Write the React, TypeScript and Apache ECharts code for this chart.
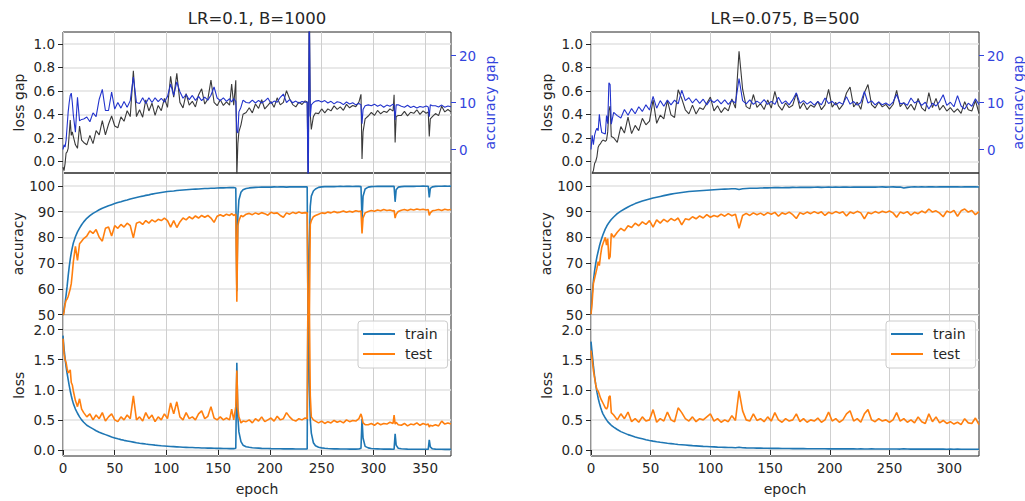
import React, { useEffect, useRef } from 'react';
import * as echarts from 'echarts';

// ---------------- Panel A: LR=0.1, B=1000 ----------------
const EPOCHS_A = [
  0, 1, 2, 3, 4, 5, 6, 7, 8, 9, 10,
  12, 14, 16, 18, 20,
  23, 26, 29, 32, 35, 38, 41, 44, 47, 50,
  53, 56, 59, 62, 65, 68, 71, 74, 77, 80,
  83, 86, 89, 92, 95, 98, 101, 104, 107, 110,
  113, 116, 119, 122, 125, 128, 131, 134, 137, 140,
  143, 146, 149, 152, 155, 158, 161,
  163, 165, 167, 168, 169, 170, 172, 174,
  177, 180, 183, 186, 189, 192, 195, 198, 201, 204,
  207, 210, 213, 216, 219, 222, 225, 228, 231, 234,
  236, 237, 238, 239, 240, 242, 244,
  247, 250, 253, 256, 259, 262, 265, 268, 271, 274, 277, 280, 283, 286,
  288, 289, 290, 292,
  295, 298, 301, 304, 307, 310, 313, 316, 319,
  320, 321, 322, 324,
  327, 330, 333, 336, 339, 342, 345, 348, 351,
  353, 354, 355, 357,
  360, 363, 366, 369, 372, 375,
];

const TRAIN_ACC_A = [
  49, 52, 54.5, 57.5, 61, 65, 68.5, 71.5, 74, 76, 77.8,
  80.2, 82.1, 83.6, 84.9, 86,
  87.4, 88.4, 89.3, 90.0, 90.7, 91.3, 91.8, 92.3, 92.7, 93.1,
  93.5, 93.8, 94.2, 94.5, 94.9, 95.2, 95.5, 95.8, 96.0, 96.3,
  96.5, 96.8, 97.0, 97.2, 97.4, 97.6, 97.8, 97.9, 98.0, 98.2,
  98.3, 98.4, 98.5, 98.6, 98.7, 98.75, 98.8, 98.9, 98.95, 99.0,
  99.05, 99.1, 99.15, 99.2, 99.2, 99.25, 99.3,
  99.3, 99.35, 99.2, 59, 88, 94.5, 97.5, 98.5,
  99.0, 99.2, 99.3, 99.4, 99.45, 99.5, 99.5, 99.55, 99.5, 99.6,
  99.55, 99.6, 99.6, 99.5, 99.6, 99.65, 99.6, 99.65, 99.6, 99.65,
  99.6, 30, 75, 92, 96, 98, 98.8,
  99.4, 99.6, 99.7, 99.7, 99.75, 99.7, 99.75, 99.8, 99.75, 99.8, 99.8, 99.75, 99.8, 99.8,
  99.7, 87, 96, 98.8,
  99.5, 99.7, 99.75, 99.8, 99.8, 99.8, 99.85, 99.8, 99.85,
  99.8, 93.8, 98.5, 99.5,
  99.7, 99.8, 99.8, 99.85, 99.8, 99.85, 99.85, 99.9, 99.85,
  99.85, 95.5, 99.0, 99.6,
  99.8, 99.85, 99.85, 99.9, 99.85, 99.9,
];

const TEST_ACC_A = [
  49, 51, 54, 55.5, 56, 57, 58.5, 60, 62, 66, 70.5,
  76.5, 71, 77.5, 78.5, 79.5,
  80.5, 82.5, 81.5, 83, 80, 78.5, 83.5, 84, 80.5, 84.5,
  83.5, 85, 84, 85.5, 84.5, 79.8, 85.5, 86, 85, 86.5,
  85.5, 86.8, 86, 87, 86.5, 87.5, 86.5, 84, 86.5, 83.8,
  86, 87.5, 86.8, 88, 87.2, 88.3, 87.5, 88.5, 87.8, 88.5,
  87.5, 85.8, 88.2, 88.8, 88.2, 89, 88.5,
  89.2, 88.5, 89, 55, 84.5, 86.5, 88.5, 88,
  89, 89.3, 88.8, 89.5, 89, 89.6, 89.2, 88.6, 89.7, 89.3,
  89.5, 88.5, 87.8, 89.5, 89, 89.7, 89.3, 89.8, 89.4, 89.6,
  89.5, 42, 44, 85, 86.5, 88, 88.5,
  89, 89.5, 89.3, 89.8, 89.5, 90, 89.6, 89.8, 90.2, 89.7, 90.1, 89.8, 90.3, 90,
  90.2, 81.5, 87.5, 89.5,
  90, 90.4, 90.1, 90.6, 90.3, 90.8, 90.4, 90.6, 90.2,
  90.5, 87.5, 89, 90,
  90.5, 90.8, 90.4, 90.9, 90.6, 91, 90.7, 90.9, 90.6,
  90.8, 88.5, 89.5, 90.3,
  90.5, 90.8, 90.4, 90.9, 90.6, 90.8,
];

const TRAIN_LOSS_A = [
  1.9, 1.68, 1.52, 1.38, 1.27, 1.17, 1.07, 0.98, 0.9, 0.83, 0.77,
  0.68, 0.61, 0.55, 0.5, 0.46,
  0.41, 0.38, 0.35, 0.32, 0.295, 0.275, 0.255, 0.235, 0.215, 0.2,
  0.185, 0.172, 0.16, 0.15, 0.14, 0.13, 0.12, 0.112, 0.105, 0.098,
  0.092, 0.086, 0.08, 0.075, 0.07, 0.066, 0.062, 0.058, 0.055, 0.052,
  0.049, 0.046, 0.044, 0.042, 0.04, 0.038, 0.036, 0.034, 0.033, 0.031,
  0.03, 0.028, 0.027, 0.026, 0.025, 0.024, 0.023,
  0.022, 0.022, 0.03, 1.45, 0.55, 0.3, 0.14, 0.08,
  0.055, 0.045, 0.038, 0.033, 0.03, 0.027, 0.025, 0.024, 0.022, 0.021,
  0.02, 0.02, 0.019, 0.019, 0.018, 0.018, 0.017, 0.017, 0.017, 0.016,
  0.016, 3.6, 1.13, 0.5, 0.28, 0.12, 0.07,
  0.045, 0.035, 0.028, 0.024, 0.021, 0.019, 0.018, 0.017, 0.016, 0.016, 0.015, 0.015, 0.015, 0.016,
  0.03, 0.52, 0.2, 0.06,
  0.035, 0.025, 0.02, 0.018, 0.016, 0.015, 0.014, 0.014, 0.013,
  0.014, 0.27, 0.08, 0.03,
  0.02, 0.016, 0.014, 0.013, 0.012, 0.012, 0.011, 0.011, 0.011,
  0.011, 0.17, 0.05, 0.02,
  0.014, 0.012, 0.011, 0.01, 0.01, 0.01,
];

const TEST_LOSS_A = [
  1.85, 1.6, 1.5, 1.45, 1.35, 1.28, 1.3, 1.33, 1.12, 1.08, 0.98,
  0.82, 0.72, 0.85, 0.68, 0.62,
  0.55, 0.6, 0.5, 0.58, 0.52, 0.62, 0.48, 0.55, 0.6, 0.5,
  0.47, 0.55, 0.5, 0.58, 0.52, 0.9, 0.5, 0.55, 0.48, 0.62,
  0.52, 0.58, 0.47, 0.55, 0.5, 0.6, 0.52, 0.78, 0.6, 0.8,
  0.55, 0.5, 0.62, 0.52, 0.55, 0.5, 0.6, 0.65, 0.52, 0.56,
  0.72, 0.53, 0.5, 0.55, 0.5, 0.53, 0.5,
  0.68, 0.5, 0.72, 1.32, 0.7, 0.55, 0.45, 0.48,
  0.47, 0.5, 0.45, 0.52, 0.48, 0.55, 0.47, 0.5, 0.53, 0.48,
  0.56, 0.5, 0.52, 0.62, 0.55, 0.5, 0.48, 0.52, 0.5, 0.53,
  0.52, 3.4, 2.6, 0.9, 0.55, 0.5, 0.48,
  0.45, 0.48, 0.44, 0.47, 0.45, 0.49, 0.46, 0.48, 0.45, 0.5, 0.47, 0.49, 0.48, 0.52,
  0.6, 0.54, 0.45, 0.42,
  0.42, 0.44, 0.41, 0.45, 0.42, 0.44, 0.43, 0.46, 0.44,
  0.58, 0.43, 0.46, 0.42,
  0.41, 0.44, 0.4, 0.43, 0.42, 0.45, 0.41, 0.44, 0.42,
  0.43, 0.38, 0.41, 0.4,
  0.42, 0.4, 0.48, 0.43, 0.45, 0.43,
];

// ---------------- Panel B: LR=0.075, B=500 ----------------
const EPOCHS_B = [
  0, 1, 2, 3, 4, 5, 6, 7, 8, 9, 10,
  12, 13, 14, 15, 16, 17, 19,
  22, 25, 28, 31, 34, 37, 40, 43, 46, 49,
  52, 55, 58, 61, 64, 67, 70, 73, 76, 79,
  82, 85, 88, 91, 94, 97, 100, 103, 106, 109,
  112, 115, 118, 121, 124, 127, 130, 133, 136, 139,
  142, 145, 148, 151, 154, 157, 160, 163, 166, 169,
  172, 175, 178, 181, 184, 187, 190, 193, 196, 199,
  202, 205, 208, 211, 214, 217, 220, 223, 226, 229,
  232, 235, 238, 241, 244, 247, 250, 253, 256, 259,
  262, 265, 268, 271, 274, 277, 280, 283, 286, 289,
  292, 295, 298, 301, 304, 307, 310, 313, 316, 319,
  322, 325,
];

const TRAIN_ACC_B = [
  50, 58, 63, 67, 70, 72.5, 74.5, 76.5, 78.2, 79.6, 81,
  83.3, 84.2, 85, 85.7, 86.3, 86.9, 87.9,
  89.2, 90.2, 91.0, 91.8, 92.5, 93.1, 93.6, 94.1, 94.5, 94.9,
  95.3, 95.6, 95.9, 96.2, 96.5, 96.8, 97.0, 97.2, 97.4, 97.6,
  97.8, 97.9, 98.0, 98.1, 98.2, 98.3, 98.4, 98.5, 98.6, 98.7,
  98.75, 98.8, 98.85, 98.9, 98.6, 98.9, 99.0, 99.05, 99.1, 99.1,
  99.15, 99.2, 99.2, 99.25, 99.3, 99.3, 99.25, 99.35, 99.3, 99.4,
  99.35, 99.4, 99.4, 99.45, 99.4, 99.45, 99.5, 99.4, 99.45, 99.5,
  99.45, 99.5, 99.45, 99.5, 99.55, 99.45, 99.5, 99.55, 99.5, 99.55,
  99.5, 99.55, 99.5, 99.55, 99.6, 99.5, 99.55, 99.6, 99.5, 99.55,
  99.2, 99.4, 99.55, 99.6, 99.55, 99.6, 99.55, 99.6, 99.65, 99.55,
  99.6, 99.65, 99.6, 99.65, 99.6, 99.65, 99.55, 99.6, 99.65, 99.6,
  99.6, 99.55,
];

const TEST_ACC_B = [
  50, 55, 62, 64, 66, 68, 70.5, 69, 73, 76, 77.5,
  80, 77, 79.5, 71.5, 72.5, 81.5, 80,
  82, 83.5, 82.5, 84.5, 83.8, 85.5, 84.5, 86, 85, 86.5,
  84, 86.8, 85.5, 87, 86, 87.3, 86.5, 87.5, 84.8, 87.2,
  86.8, 88, 87.2, 88.3, 87.5, 88.8, 87.8, 88.5, 88, 89,
  88.2, 89.2, 88.4, 89, 83.5, 88.5, 89.3, 88.5, 89.5, 88.8,
  89.4, 88.6, 89.6, 89, 89.7, 88.2, 89.5, 89, 89.8, 88.8,
  87.3, 89.6, 89, 89.8, 89.2, 90, 89.3, 89.9, 88.5, 89.7,
  89.2, 90, 89.4, 89.9, 88.3, 89.8, 89.3, 90.1, 89.5, 87.2,
  89.6, 89.2, 90, 89.4, 90.1, 89.6, 90.2, 89.5, 87.8, 89.8,
  89.3, 90, 88.6, 89.7, 89.2, 90.2, 89.5, 91, 89.8, 90.3,
  89.4, 88, 90.2, 89.6, 90.5, 88.2, 90.3, 91, 89.8, 90.4,
  88.8, 90,
];

const TRAIN_LOSS_B = [
  1.8, 1.6, 1.4, 1.22, 1.08, 0.96, 0.86, 0.78, 0.71, 0.65, 0.6,
  0.53, 0.5, 0.47, 0.45, 0.43, 0.41, 0.38,
  0.34, 0.305, 0.28, 0.255, 0.235, 0.215, 0.2, 0.185, 0.17, 0.158,
  0.147, 0.137, 0.128, 0.12, 0.112, 0.105, 0.098, 0.092, 0.087, 0.082,
  0.077, 0.072, 0.068, 0.064, 0.06, 0.057, 0.054, 0.051, 0.048, 0.046,
  0.044, 0.042, 0.04, 0.038, 0.045, 0.037, 0.035, 0.034, 0.032, 0.031,
  0.03, 0.029, 0.028, 0.027, 0.026, 0.026, 0.025, 0.024, 0.024, 0.023,
  0.023, 0.022, 0.022, 0.021, 0.021, 0.02, 0.02, 0.021, 0.02, 0.019,
  0.02, 0.019, 0.019, 0.018, 0.019, 0.018, 0.018, 0.017, 0.018, 0.017,
  0.017, 0.018, 0.017, 0.016, 0.017, 0.016, 0.016, 0.017, 0.016, 0.015,
  0.02, 0.017, 0.015, 0.015, 0.016, 0.015, 0.014, 0.015, 0.014, 0.015,
  0.014, 0.014, 0.013, 0.014, 0.013, 0.014, 0.013, 0.013, 0.012, 0.013,
  0.013, 0.012,
];

const TEST_LOSS_B = [
  1.65, 1.5, 1.32, 1.2, 1.08, 1.0, 0.98, 0.92, 0.86, 0.82, 0.78,
  0.7, 0.68, 0.72, 0.88, 0.9, 0.62, 0.58,
  0.5, 0.6, 0.52, 0.63, 0.47, 0.52, 0.46, 0.55, 0.48, 0.5,
  0.67, 0.46, 0.52, 0.48, 0.63, 0.5, 0.47, 0.7, 0.62, 0.52,
  0.48, 0.55, 0.47, 0.52, 0.5, 0.55, 0.6, 0.48, 0.52, 0.46,
  0.5, 0.47, 0.57, 0.49, 0.98, 0.65, 0.5, 0.48, 0.6, 0.49,
  0.52, 0.47, 0.55, 0.48, 0.62, 0.5, 0.46, 0.52, 0.48, 0.5,
  0.6, 0.47, 0.52, 0.46, 0.5, 0.48, 0.53, 0.46, 0.5, 0.63,
  0.48, 0.52, 0.46, 0.5, 0.6, 0.65, 0.48, 0.52, 0.46, 0.6,
  0.67, 0.5, 0.47, 0.52, 0.48, 0.5, 0.46, 0.5, 0.62, 0.48,
  0.52, 0.46, 0.5, 0.45, 0.55, 0.47, 0.44, 0.6, 0.47, 0.55,
  0.45, 0.49, 0.44, 0.47, 0.43, 0.46, 0.42, 0.52, 0.45, 0.44,
  0.53, 0.42,
];

// ---------------- Ticks / labels ----------------
const TITLES = ['LR=0.1, B=1000', 'LR=0.075, B=500'];
const X_MAX = [375, 325];
const X_TICKS_A = [0, 50, 100, 150, 200, 250, 300, 350];
const X_TICKS_B = [0, 50, 100, 150, 200, 250, 300];
const LOSS_GAP_TICKS = [0, 0.2, 0.4, 0.6, 0.8, 1.0];
const ACC_GAP_TICKS = [0, 10, 20];
const ACC_TICKS = [50, 60, 70, 80, 90, 100];
const LOSS_TICKS = [0, 0.5, 1.0, 1.5, 2.0];
const LEGEND_NAMES = ['train', 'test'];

// ---------------- Styles ----------------
const FONT = 'DejaVu Sans';
const INK = '#262626';
const TRAIN_COLOR = '#1f77b4';
const TEST_COLOR = '#ff7f0e';
const LOSS_GAP_COLOR = '#3a3a3a';
const ACC_GAP_COLOR = '#2233cc';
const ACC_GAP_TEXT = '#3344dd';
const VGRID = '#cfcfcf';
const HGRID = '#e2e2e2';

const zip = (xs: number[], ys: number[]) => xs.map((x, i) => [x, ys[i]]);
const diff = (xs: number[], a: number[], b: number[]) =>
  xs.map((x, i) => [x, Math.round((a[i] - b[i]) * 10000) / 10000]);

function buildOption() {
  const panels = [
    { epochs: EPOCHS_A, trA: TRAIN_ACC_A, teA: TEST_ACC_A, trL: TRAIN_LOSS_A, teL: TEST_LOSS_A, xTicks: X_TICKS_A, left: 63, legendLeft: 358 },
    { epochs: EPOCHS_B, trA: TRAIN_ACC_B, teA: TEST_ACC_B, trL: TRAIN_LOSS_B, teL: TEST_LOSS_B, xTicks: X_TICKS_B, left: 591, legendLeft: 886 },
  ];
  const W = 388;
  const rows = [
    { top: 32, height: 141 },
    { top: 173, height: 141.5 },
    { top: 314.5, height: 141.5 },
  ];
  const tickLabel = { fontSize: 13.5, color: INK, fontFamily: FONT };
  const nameStyle = { fontSize: 14, color: INK, fontFamily: FONT };

  const grid: any[] = [];
  const xAxis: any[] = [];
  const yAxis: any[] = [];
  const series: any[] = [];
  const legend: any[] = [];
  const graphic: any[] = [];

  panels.forEach((p, pi) => {
    rows.forEach((r, ri) => {
      grid.push({
        left: p.left, top: r.top, width: W, height: r.height,
        show: true, borderColor: INK, borderWidth: 1, backgroundColor: 'transparent',
        containLabel: false, outerBoundsMode: 'none',
      });
      const bottom = ri === 2;
      xAxis.push({
        type: 'value', gridIndex: pi * 3 + ri, min: 0, max: X_MAX[pi], interval: 50,
        axisLine: { show: false },
        axisTick: { show: bottom, length: 5, customValues: p.xTicks, lineStyle: { color: INK } },
        axisLabel: { show: bottom, customValues: p.xTicks, margin: 5, ...tickLabel },
        splitLine: { show: true, lineStyle: { color: VGRID, width: 1 } },
        name: bottom ? 'epoch' : '', nameLocation: 'middle', nameGap: 26, nameTextStyle: nameStyle,
      });
    });

    // top-left: loss gap
    yAxis.push({
      type: 'value', gridIndex: pi * 3, position: 'left', min: -0.1, max: 1.1,
      axisLine: { show: false },
      axisTick: { show: true, length: 5, customValues: LOSS_GAP_TICKS, lineStyle: { color: INK } },
      axisLabel: { customValues: LOSS_GAP_TICKS, formatter: (v: number) => v.toFixed(1), margin: 8, ...tickLabel },
      splitLine: { show: true, lineStyle: { color: HGRID, width: 1.5 } },
      name: 'loss gap', nameLocation: 'middle', nameRotate: 90, nameGap: 37, nameTextStyle: nameStyle,
    });
    // top-right: accuracy gap
    yAxis.push({
      type: 'value', gridIndex: pi * 3, position: 'right', min: -5, max: 25,
      axisLine: { show: false },
      axisTick: { show: true, length: 5, customValues: ACC_GAP_TICKS, lineStyle: { color: ACC_GAP_TEXT } },
      axisLabel: { customValues: ACC_GAP_TICKS, margin: 8, ...tickLabel, color: ACC_GAP_TEXT },
      splitLine: { show: false },
      name: 'accuracy gap', nameLocation: 'middle', nameRotate: 90, nameGap: 32,
      nameTextStyle: { ...nameStyle, color: ACC_GAP_TEXT },
    });
    // middle: accuracy
    yAxis.push({
      type: 'value', gridIndex: pi * 3 + 1, min: 50, max: 105,
      axisLine: { show: false },
      axisTick: { show: true, length: 5, customValues: ACC_TICKS, lineStyle: { color: INK } },
      axisLabel: { customValues: ACC_TICKS, margin: 8, ...tickLabel },
      splitLine: { show: true, lineStyle: { color: HGRID, width: 1.5 } },
      name: 'accuracy', nameLocation: 'middle', nameRotate: 90, nameGap: 37, nameTextStyle: nameStyle,
    });
    // bottom: loss
    yAxis.push({
      type: 'value', gridIndex: pi * 3 + 2, min: -0.1, max: 2.25,
      axisLine: { show: false },
      axisTick: { show: true, length: 5, customValues: LOSS_TICKS, lineStyle: { color: INK } },
      axisLabel: { customValues: LOSS_TICKS, formatter: (v: number) => v.toFixed(1), margin: 8, ...tickLabel },
      splitLine: { show: true, lineStyle: { color: HGRID, width: 1.5 } },
      name: 'loss', nameLocation: 'middle', nameRotate: 90, nameGap: 37, nameTextStyle: nameStyle,
    });

    const line = (name: string, xi: number, yi: number, data: any[], color: string, width: number, z: number) => ({
      type: 'line', name, xAxisIndex: xi, yAxisIndex: yi, data, symbol: 'none', showSymbol: false,
      lineStyle: { color, width }, itemStyle: { color }, z, silent: true, clip: true,
    });

    series.push(line('loss gap', pi * 3, pi * 4, diff(p.epochs, p.teL, p.trL), LOSS_GAP_COLOR, 1.1, 2));
    series.push(line('accuracy gap', pi * 3, pi * 4 + 1, diff(p.epochs, p.trA, p.teA), ACC_GAP_COLOR, 1.1, 3));
    series.push(line('train', pi * 3 + 1, pi * 4 + 2, zip(p.epochs, p.trA), TRAIN_COLOR, 1.6, 2));
    series.push(line('test', pi * 3 + 1, pi * 4 + 2, zip(p.epochs, p.teA), TEST_COLOR, 1.6, 3));
    series.push(line('train', pi * 3 + 2, pi * 4 + 3, zip(p.epochs, p.trL), TRAIN_COLOR, 1.6, 2));
    series.push(line('test', pi * 3 + 2, pi * 4 + 3, zip(p.epochs, p.teL), TEST_COLOR, 1.6, 3));

    legend.push({
      data: LEGEND_NAMES, orient: 'vertical', left: p.legendLeft, top: 321,
      icon: 'rect', itemWidth: 32, itemHeight: 2, itemGap: 6, padding: [6, 10, 7, 5],
      backgroundColor: 'rgba(255,255,255,0.8)', borderColor: '#cccccc', borderWidth: 1, borderRadius: 3,
      textStyle: { fontSize: 14, color: INK, fontFamily: FONT, padding: [0, 0, 0, 5] },
      selectedMode: false, z: 10,
    });

    graphic.push({
      type: 'text', x: p.left + W / 2, y: 18, z: 10,
      style: {
        text: TITLES[pi], fontSize: 16.5, fontFamily: FONT, fill: INK,
        align: 'center', verticalAlign: 'middle', textAlign: 'center', textVerticalAlign: 'middle',
      },
    });
  });

  return {
    animation: false,
    backgroundColor: '#ffffff',
    textStyle: { fontFamily: FONT },
    grid, xAxis, yAxis, series, legend, graphic,
  };
}

export default function App() {
  const ref = useRef<HTMLDivElement>(null);
  useEffect(() => {
    if (!ref.current) return;
    const chart = echarts.init(ref.current, null, { renderer: 'svg' });
    chart.setOption(buildOption() as any);
    return () => chart.dispose();
  }, []);
  return (
    <div
      ref={ref}
      style={{ position: 'absolute', left: 0, top: 0, width: 1025, height: 501, background: '#fff' }}
    />
  );
}
